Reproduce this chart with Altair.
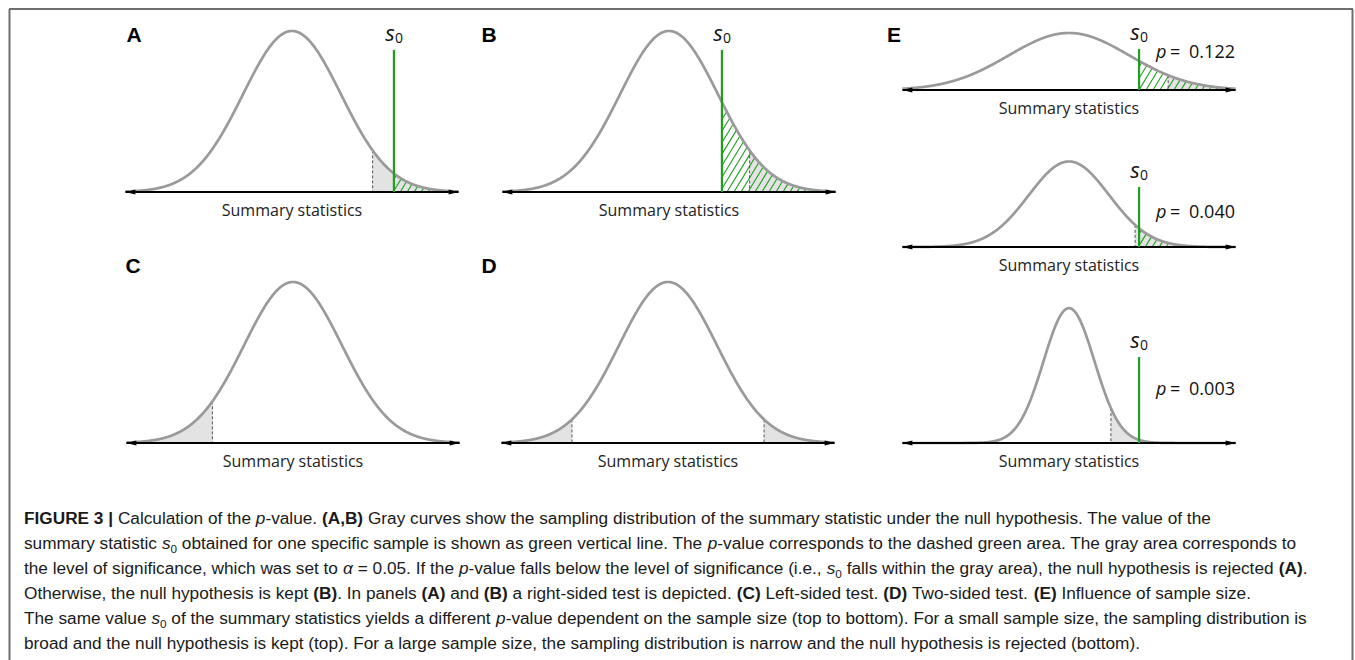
import re
import numpy as np
import pandas as pd
import altair as alt

# ---------------- chart content ----------------
PANEL_IDS    = ["A", "B", "C", "D", "E1", "E2", "E3"]
PANEL_LETTER = ["A", "B", "C", "D", "E", "", ""]
PANEL_SD     = [1.0, 1.0, 1.0, 1.0, 1.23, 0.82, 0.52]
PANEL_TEST   = ["right", "right", "left", "two", "right", "right", "right"]
PANEL_S0     = [2.08, 1.08, None, None, 1.43, 1.43, 1.43]
S0_LINE_TOP  = [0.352, 0.352, None, None, 0.233, 0.341, 0.489]
P_VALUE_TEXT = ["", "", "", "", "0.122", "0.040", "0.003"]
Z_CRIT_ONE = 1.645   # right/left sided, alpha = 0.05
Z_CRIT_TWO = 1.96    # two sided, alpha = 0.05
X_EXTENT = 3.4
AXIS_LABEL = "Summary statistics"

CAPTION_LINES = [
    "**FIGURE 3 |** Calculation of the _p_-value. **(A,B)** Gray curves show the sampling distribution of the summary statistic under the null hypothesis. The value of the",
    "summary statistic _s_~0~ obtained for one specific sample is shown as green vertical line. The _p_-value corresponds to the dashed green area. The gray area corresponds to",
    "the level of significance, which was set to _α_ = 0.05. If the _p_-value falls below the level of significance (i.e., _s_~0~ falls within the gray area), the null hypothesis is rejected **(A)**.",
    "Otherwise, the null hypothesis is kept **(B)**. In panels **(A)** and **(B)** a right-sided test is depicted. **(C)** Left-sided test. **(D)** Two-sided test. **(E)** Influence of sample size.",
    "The same value _s_~0~ of the summary statistics yields a different _p_-value dependent on the sample size (top to bottom). For a small sample size, the sampling distribution is",
    "broad and the null hypothesis is kept (top). For a large sample size, the sampling distribution is narrow and the null hypothesis is rejected (bottom).",
]

# ---------------- layout (pixels) ----------------
PX_PER_X = 49.0
LAYOUT = {
    "A":  dict(cx=292,  base=192, py=403.6, letter=(134, 36)),
    "B":  dict(cx=669,  base=192, py=403.6, letter=(489, 36)),
    "C":  dict(cx=293,  base=443, py=403.6, letter=(133, 267)),
    "D":  dict(cx=668,  base=443, py=403.6, letter=(489, 267)),
    "E1": dict(cx=1069, base=90,  py=175.8, letter=(894, 36), p_y=53),
    "E2": dict(cx=1069, base=247, py=175.8, p_y=213),
    "E3": dict(cx=1069, base=443, py=175.8, p_y=390),
}
GREEN = "#1f9e1f"
CURVE = "#9a9a9a"
GRAYFILL = "#e3e3e3"
LABEL_FONT = "Open Sans"
CAP_FONT = "Liberation Sans"
CAP_X = 24
CAP_Y0 = 524
CAP_DY = 25
CAP_RIGHT = 1297


def pdf(x, sd):
    x = np.asarray(x, dtype=float)
    return np.exp(-0.5 * (x / sd) ** 2) / (sd * np.sqrt(2 * np.pi))


def hatch_segments(sd, s0, xpx, ypx, spacing=7.0, slope=1.65):
    X = np.linspace(s0, X_EXTENT, 3000)
    Xp = X * xpx
    Fp = pdf(X, sd) * ypx
    s0p = s0 * xpx
    Fs0 = float(pdf(s0, sd)) * ypx
    segs = []
    c = s0p - Fs0 / slope + spacing * 0.5
    while c < X_EXTENT * xpx:
        if c >= s0p:
            xs, ys = c, 0.0
        else:
            xs, ys = s0p, slope * (s0p - c)
        line = slope * (Xp - c)
        mask = (Xp >= xs) & (line >= Fp)
        if mask.any():
            j = int(np.argmax(mask))
            xe, ye = Xp[j], Fp[j]
            if xe - xs > 0.6:
                segs.append(dict(x=xs / xpx, y=ys / ypx, x2=xe / xpx, y2=ye / ypx))
        c += spacing
    return pd.DataFrame(segs)


def panel_chart(i):
    pid = PANEL_IDS[i]
    sd = PANEL_SD[i]
    L = LAYOUT[pid]
    xsc = alt.Scale(domain=[-X_EXTENT, X_EXTENT],
                    range=[L["cx"] - X_EXTENT * PX_PER_X, L["cx"] + X_EXTENT * PX_PER_X])
    ysc = alt.Scale(domain=[0, 1], range=[L["base"], L["base"] - L["py"]])

    def X(f):
        return alt.X(f, type="quantitative", scale=xsc, axis=None)

    def Y(f):
        return alt.Y(f, type="quantitative", scale=ysc, axis=None, stack=None)

    layers = []
    test = PANEL_TEST[i]
    if test == "right":
        crits = [Z_CRIT_ONE * sd]
        regions = [(Z_CRIT_ONE * sd, X_EXTENT)]
    elif test == "left":
        crits = [-Z_CRIT_ONE * sd]
        regions = [(-X_EXTENT, -Z_CRIT_ONE * sd)]
    else:
        crits = [-Z_CRIT_TWO * sd, Z_CRIT_TWO * sd]
        regions = [(-X_EXTENT, -Z_CRIT_TWO * sd), (Z_CRIT_TWO * sd, X_EXTENT)]

    for (a, b) in regions:
        xx = np.linspace(a, b, 200)
        rd = pd.DataFrame(dict(x=xx, y=pdf(xx, sd)))
        layers.append(alt.Chart(rd).mark_area(color=GRAYFILL, opacity=1)
                      .encode(x=X("x"), y=Y("y")))

    s0 = PANEL_S0[i]
    if s0 is not None:
        hd = hatch_segments(sd, s0, PX_PER_X, L["py"])
        if len(hd):
            layers.append(alt.Chart(hd).mark_rule(color=GREEN, strokeWidth=1.1)
                          .encode(x=X("x"), y=Y("y"), x2="x2:Q", y2="y2:Q"))

    dd = pd.DataFrame([dict(x=c, y=float(pdf(c, sd)), y0=0.0) for c in crits])
    layers.append(alt.Chart(dd).mark_rule(color="#555555", strokeWidth=1, strokeDash=[3, 2])
                  .encode(x=X("x"), y=Y("y"), y2="y0:Q"))

    xs = np.round(np.arange(-X_EXTENT, X_EXTENT + 1e-9, 0.01), 4)
    cd = pd.DataFrame(dict(x=xs, y=pdf(xs, sd)))
    layers.append(alt.Chart(cd).mark_line(color=CURVE, strokeWidth=2.7)
                  .encode(x=X("x"), y=Y("y")))

    ad = pd.DataFrame([dict(x=-X_EXTENT, x2=X_EXTENT, y=0.0)])
    layers.append(alt.Chart(ad).mark_rule(color="black", strokeWidth=2)
                  .encode(x=X("x"), x2="x2:Q", y=Y("y")))
    layers.append(alt.Chart(pd.DataFrame([dict(x=-X_EXTENT, y=0.0)]))
                  .mark_point(shape="M-1,0 L1,-0.5 L1,0.5 Z", size=100, filled=True,
                              color="black", opacity=1, xOffset=5)
                  .encode(x=X("x"), y=Y("y")))
    layers.append(alt.Chart(pd.DataFrame([dict(x=X_EXTENT, y=0.0)]))
                  .mark_point(shape="M1,0 L-1,-0.5 L-1,0.5 Z", size=100, filled=True,
                              color="black", opacity=1, xOffset=-5)
                  .encode(x=X("x"), y=Y("y")))

    layers.append(alt.Chart(pd.DataFrame([dict(x=0.0, t=AXIS_LABEL)]))
                  .mark_text(font=LABEL_FONT, fontSize=16, color="#222222", baseline="middle")
                  .encode(x=X("x"), y=alt.value(L["base"] + 19), text="t:N"))

    if s0 is not None:
        top = S0_LINE_TOP[i]
        gd = pd.DataFrame([dict(x=s0, y=0.0, y2=top, s="s", z="0")])
        layers.append(alt.Chart(gd).mark_rule(color=GREEN, strokeWidth=2.2)
                      .encode(x=X("x"), y=Y("y"), y2="y2:Q"))
        layers.append(alt.Chart(gd).mark_text(font=LABEL_FONT, fontSize=22, fontStyle="italic",
                                              baseline="alphabetic", dx=-4, dy=-9, color="#111111")
                      .encode(x=X("x"), y=Y("y2"), text="s:N"))
        layers.append(alt.Chart(gd).mark_text(font=LABEL_FONT, fontSize=14, align="left",
                                              baseline="alphabetic", dx=1, dy=-7, color="#111111")
                      .encode(x=X("x"), y=Y("y2"), text="z:N"))
        if P_VALUE_TEXT[i]:
            pdd = pd.DataFrame([dict(x=s0, p="p", e="=", v=P_VALUE_TEXT[i])])
            py = L["p_y"]
            layers.append(alt.Chart(pdd).mark_text(font=LABEL_FONT, fontSize=18, fontStyle="italic",
                                                   align="left", baseline="middle", dx=17, color="#111111")
                          .encode(x=X("x"), y=alt.value(py), text="p:N"))
            layers.append(alt.Chart(pdd).mark_text(font=LABEL_FONT, fontSize=18, align="left",
                                                   baseline="middle", dx=31, color="#111111")
                          .encode(x=X("x"), y=alt.value(py), text="e:N"))
            layers.append(alt.Chart(pdd).mark_text(font=LABEL_FONT, fontSize=18, align="left",
                                                   baseline="middle", dx=50, color="#111111")
                          .encode(x=X("x"), y=alt.value(py), text="v:N"))

    if PANEL_LETTER[i]:
        lx, ly = L["letter"]
        layers.append(alt.Chart(pd.DataFrame([dict(t=PANEL_LETTER[i])]))
                      .mark_text(font="Liberation Sans", fontSize=21, fontWeight="bold",
                                 baseline="middle", color="black")
                      .encode(x=alt.value(lx), y=alt.value(ly), text="t:N"))
    return alt.layer(*layers)


# ---------------- caption ----------------
REG = {' ': 278, '!': 278, '(': 333, ')': 333, ',': 278, '-': 333, '.': 278, '|': 260, '=': 584,
       ':': 278, 'α': 578}
for ch in "0123456789":
    REG[ch] = 556
REG.update(dict(zip("ABCDEFGHIJKLMNOPQRSTUVWXYZ",
                    [667, 667, 722, 722, 667, 611, 778, 722, 278, 500, 667, 556, 833, 722, 778, 667,
                     778, 722, 667, 611, 722, 667, 944, 667, 667, 611])))
REG.update(dict(zip("abcdefghijklmnopqrstuvwxyz",
                    [556, 556, 500, 556, 556, 278, 556, 556, 222, 222, 500, 222, 833, 556, 556, 556,
                     556, 333, 500, 278, 556, 500, 722, 500, 500, 500])))
BOLD = dict(REG)
BOLD.update({'A': 722, 'B': 722, 'C': 722, 'D': 722, 'E': 667, 'F': 611, 'G': 778, 'I': 278,
             'R': 722, 'U': 722, '|': 280})


def tw(s, table, size):
    return sum(table.get(ch, 556) for ch in s) * size / 1000.0


def tokens(line):
    out = []
    for tok in re.split(r"(\*\*.*?\*\*|_.*?_|~.*?~)", line):
        if not tok:
            continue
        if tok.startswith("**"):
            out.append(("b", tok[2:-2]))
        elif tok.startswith("_"):
            out.append(("i", tok[1:-1]))
        elif tok.startswith("~"):
            out.append(("sub", tok[1:-1]))
        else:
            out.append(("r", tok))
    return out


SUB_RATIO = 0.68


def line_width(line, fs):
    w = 0
    for st, t in tokens(line):
        size = fs * SUB_RATIO if st == "sub" else fs
        w += tw(t, BOLD if st == "b" else REG, size)
    return w


CAP_FS = (CAP_RIGHT - CAP_X) / line_width(CAPTION_LINES[1], 1.0)

cap_rows = []
for li, line in enumerate(CAPTION_LINES):
    x = CAP_X
    yb = CAP_Y0 + li * CAP_DY
    for st, t in tokens(line):
        size = CAP_FS * SUB_RATIO if st == "sub" else CAP_FS
        table = BOLD if st == "b" else REG
        lead = len(t) - len(t.lstrip(" "))
        core = t.strip(" ")
        if core:
            cap_rows.append(dict(t=core, x=x + lead * table[" "] * size / 1000.0,
                                 y=yb + (4 if st == "sub" else 0), s=st))
        x += tw(t, table, size)
cap_df = pd.DataFrame(cap_rows)

cap_layers = []
styles = {
    "r": dict(fontSize=CAP_FS),
    "b": dict(fontSize=CAP_FS, fontWeight="bold"),
    "i": dict(fontSize=CAP_FS, fontStyle="italic"),
    "sub": dict(fontSize=CAP_FS * SUB_RATIO),
}
for st, kw in styles.items():
    sub = cap_df[cap_df.s == st]
    cap_layers.append(alt.Chart(sub).mark_text(font=CAP_FONT, align="left", baseline="alphabetic",
                                               color="#1a1a1a", **kw)
                      .encode(x=alt.X("x:Q", scale=None, axis=None),
                              y=alt.Y("y:Q", scale=None, axis=None), text="t:N"))

# ---------------- frame ----------------
FRAME_COLOR = "#6e6e6e"
frame = [
    alt.Chart(pd.DataFrame([{"k": 0}])).mark_rule(color=FRAME_COLOR, strokeWidth=2)
    .encode(x=alt.value(9), x2=alt.value(1353), y=alt.value(9)),
    alt.Chart(pd.DataFrame([{"k": 0}])).mark_rule(color=FRAME_COLOR, strokeWidth=2)
    .encode(x=alt.value(9.5), y=alt.value(9), y2=alt.value(660)),
    alt.Chart(pd.DataFrame([{"k": 0}])).mark_rule(color=FRAME_COLOR, strokeWidth=2)
    .encode(x=alt.value(1352.5), y=alt.value(9), y2=alt.value(660)),
]

panels = [panel_chart(i) for i in range(len(PANEL_IDS))]

chart = (alt.layer(*panels, *cap_layers, *frame)
         .resolve_scale(x="independent", y="independent")
         .properties(width=1355, height=660, padding=0, autosize="none", background="white")
         .configure_view(stroke=None))

chart.save("out.html", embed_options={"renderer": "svg", "actions": False})
